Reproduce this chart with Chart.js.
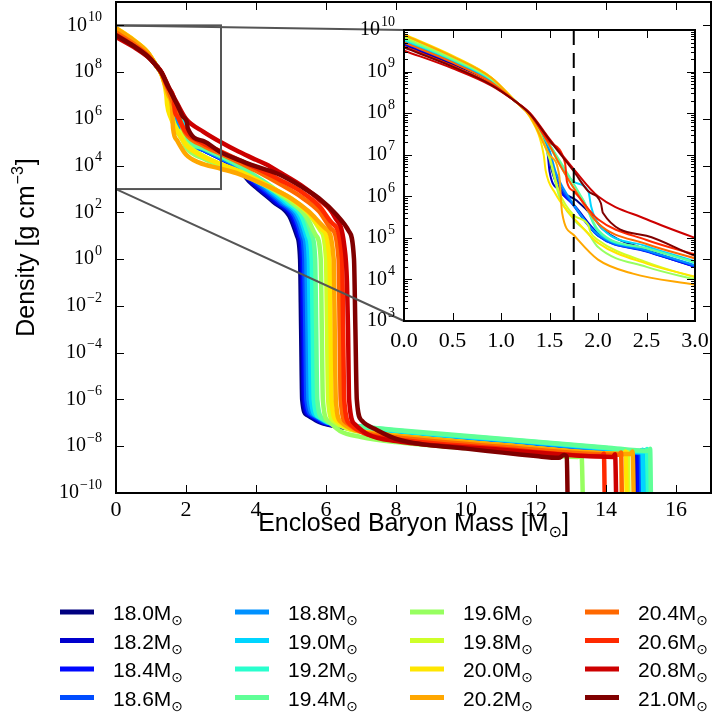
<!DOCTYPE html>
<html>
<head>
<meta charset="utf-8">
<script src="https://cdn.jsdelivr.net/npm/chart.js@4.4.1/dist/chart.umd.min.js"></script>
<style>
  html, body { margin: 0; padding: 0; background: #fff; }
  #wrap { position: relative; width: 713px; height: 722px; }
  #main { position: absolute; left: 0; top: 0; }
  #inset { position: absolute; left: 355px; top: 0; }
</style>
</head>
<body>
<div id="wrap">
  <canvas id="main" width="713" height="722"></canvas>
  <canvas id="inset" width="358" height="360"></canvas>
</div>
<script>
// ---- data: [enclosed baryon mass (Msun), density (g/cm^3)] ----
const s18_0 = [[0, 4.2e9], [0.5, 1.5e9], [0.9, 5.6e8], [1.15, 1.9e8], [1.3, 8.9e7], [1.4, 4.0e7], [1.5, 1.1e7], [1.52, 4.5e6], [1.78, 7.9e5], [1.95, 3.2e5], [2.05, 1.6e5], [2.5, 5.2e4], [3.0, 2.1e4], [3.5, 7.1e3], [3.8, 2.2e3], [4.1, 890], [4.5, 280], [4.95, 71], [5.17, 10], [5.26, 1], [5.29, 1e-3], [5.32, 1e-6], [5.45, 2.2e-7], [5.8, 1.1e-7], [6.5, 6.3e-8], [8, 3.5e-8], [11, 1.4e-8], [14, 6.0e-9], [14.78, 4.8e-9], [14.81, 6.0e-9], [14.84, 1e-11]];
const s18_2 = [[0, 4.5e9], [0.5, 1.6e9], [0.9, 5.8e8], [1.15, 1.9e8], [1.3, 8.9e7], [1.4, 3.5e7], [1.48, 1.1e7], [1.5, 4.0e6], [1.6, 1.4e6], [1.75, 6.3e5], [2.0, 1.3e5], [2.5, 4.8e4], [3.0, 2.0e4], [3.5, 7.4e3], [3.84, 2.2e3], [4.15, 890], [4.55, 280], [5.0, 71], [5.21, 10], [5.3, 1], [5.33, 1e-3], [5.36, 1e-6], [5.5, 2.2e-7], [5.85, 1.1e-7], [6.5, 6.6e-8], [8, 3.7e-8], [11, 1.5e-8], [14, 6.3e-9], [14.83, 5.0e-9], [14.86, 6.3e-9], [14.89, 1e-11]];
const s18_4 = [[0, 4.8e9], [0.5, 1.66e9], [0.9, 5.9e8], [1.15, 1.9e8], [1.3, 8.9e7], [1.4, 3.7e7], [1.5, 1.0e7], [1.55, 2.8e6], [1.75, 6.0e5], [2.0, 1.12e5], [2.5, 4.7e4], [3.0, 2.0e4], [3.5, 7.9e3], [3.9, 2.2e3], [4.22, 890], [4.62, 280], [5.05, 71], [5.26, 10], [5.34, 1], [5.37, 1e-3], [5.4, 1e-6], [5.55, 2.2e-7], [5.9, 1.1e-7], [6.5, 7.1e-8], [8, 3.8e-8], [11, 1.6e-8], [14, 6.6e-9], [14.88, 5.0e-9], [14.92, 6.3e-9], [14.95, 1e-11]];
const s18_6 = [[0, 5.0e9], [0.5, 1.74e9], [0.9, 6.0e8], [1.15, 1.9e8], [1.3, 8.9e7], [1.4, 3.8e7], [1.5, 1.12e7], [1.56, 3.2e6], [1.75, 5.9e5], [2.0, 1.12e5], [2.5, 4.8e4], [3.0, 2.1e4], [3.5, 8.3e3], [3.95, 2.2e3], [4.28, 890], [4.68, 280], [5.1, 71], [5.3, 10], [5.38, 1], [5.41, 1e-3], [5.44, 1e-6], [5.6, 2.2e-7], [5.95, 1.1e-7], [6.5, 7.6e-8], [8, 4.0e-8], [11, 1.66e-8], [14, 6.9e-9], [14.95, 5.2e-9], [14.99, 6.6e-9], [15.02, 1e-11]];
const s18_8 = [[0, 5.2e9], [0.5, 1.78e9], [0.9, 6.0e8], [1.15, 1.9e8], [1.3, 8.9e7], [1.4, 4.0e7], [1.5, 1.26e7], [1.57, 3.5e6], [1.75, 6.3e5], [2.0, 1.2e5], [2.5, 5.0e4], [3.0, 2.2e4], [3.5, 8.9e3], [4.0, 2.4e3], [4.35, 890], [4.75, 280], [5.16, 71], [5.36, 10], [5.44, 1], [5.47, 1e-3], [5.5, 1e-6], [5.66, 2.2e-7], [6.0, 1.1e-7], [6.5, 7.9e-8], [8, 4.2e-8], [11, 1.8e-8], [14, 7.4e-9], [15.05, 5.4e-9], [15.09, 6.8e-9], [15.12, 1e-11]];
const s19_0 = [[0, 5.6e9], [0.5, 1.86e9], [0.9, 6.3e8], [1.15, 1.9e8], [1.3, 9.3e7], [1.5, 1.78e7], [1.75, 2.24e6], [1.9, 1.32e6], [1.93, 5.6e5], [2.0, 2.24e5], [2.5, 6.3e4], [3.0, 2.7e4], [3.5, 1.0e4], [4.05, 2.5e3], [4.42, 890], [4.82, 280], [5.23, 71], [5.43, 10], [5.51, 1], [5.54, 1e-3], [5.57, 1e-6], [5.73, 2.0e-7], [6.05, 1.05e-7], [6.6, 7.9e-8], [8, 4.5e-8], [11, 1.9e-8], [14, 7.9e-9], [15.0, 5.6e-9], [15.04, 7.1e-9], [15.07, 1e-11]];
const s19_2 = [[0, 6.0e9], [0.5, 1.95e9], [0.9, 6.5e8], [1.15, 1.9e8], [1.3, 9.1e7], [1.5, 1.58e7], [1.75, 1.58e6], [1.85, 7.9e5], [2.0, 1.41e5], [2.5, 5.6e4], [3.0, 2.5e4], [3.5, 1.0e4], [4.1, 2.5e3], [4.5, 890], [4.9, 280], [5.3, 71], [5.5, 10], [5.59, 1], [5.62, 1e-3], [5.65, 1e-6], [5.8, 1.78e-7], [6.1, 1.0e-7], [6.7, 7.9e-8], [8, 4.7e-8], [11, 2.0e-8], [14, 8.5e-9], [15.13, 6.0e-9], [15.17, 7.6e-9], [15.2, 1e-11]];
const s19_4 = [[0, 6.3e9], [0.5, 2.0e9], [0.9, 6.6e8], [1.15, 1.9e8], [1.3, 9.3e7], [1.5, 1.78e7], [1.75, 2.0e6], [1.85, 7.9e5], [2.0, 1.58e5], [2.5, 5.6e4], [3.0, 2.6e4], [3.5, 1.05e4], [4.15, 2.5e3], [4.58, 890], [5.0, 280], [5.4, 71], [5.6, 10], [5.69, 1], [5.72, 1e-3], [5.75, 1e-6], [5.9, 1.58e-7], [6.2, 8.9e-8], [6.8, 7.1e-8], [8, 5.0e-8], [11, 2.1e-8], [14, 8.9e-9], [15.22, 6.3e-9], [15.26, 7.9e-9], [15.29, 1e-11]];
const s19_6 = [[0, 6.6e9], [0.5, 2.1e9], [0.9, 6.8e8], [1.15, 1.9e8], [1.3, 8.5e7], [1.5, 7.9e6], [1.6, 1.0e6], [1.75, 2.8e5], [1.9, 1.26e5], [2.0, 6.0e4], [2.5, 2.0e4], [3.0, 1.0e4], [3.5, 5.2e3], [4.0, 2.2e3], [4.5, 890], [5.0, 280], [5.45, 63], [5.72, 10], [5.85, 1], [5.88, 1e-3], [5.91, 1e-6], [6.05, 1.26e-7], [6.4, 4.5e-8], [7.0, 2.5e-8], [8, 1.5e-8], [11, 6.3e-9], [13.2, 3.5e-9], [13.3, 4.5e-9], [13.35, 1e-11]];
const s19_8 = [[0, 7.2e9], [0.5, 2.3e9], [0.9, 7.1e8], [1.15, 1.9e8], [1.3, 8.5e7], [1.5, 8.9e6], [1.6, 1.26e6], [1.75, 3.5e5], [1.9, 2.0e5], [1.92, 1.41e5], [2.0, 8.9e4], [2.5, 2.6e4], [3.0, 1.12e4], [3.5, 5.6e3], [4.0, 2.5e3], [4.5, 1.0e3], [5.0, 355], [5.5, 89], [5.85, 16], [6.0, 1], [6.03, 1e-3], [6.06, 1e-6], [6.2, 1.26e-7], [6.6, 5.6e-8], [7.2, 3.8e-8], [8, 2.8e-8], [11, 1.12e-8], [14.55, 4.5e-9], [14.62, 5.6e-9], [14.65, 1e-11]];
const s20_0 = [[0, 7.9e9], [0.5, 2.4e9], [0.9, 7.2e8], [1.15, 1.9e8], [1.3, 7.9e7], [1.44, 1.0e7], [1.46, 4.2e6], [1.56, 1.17e6], [1.68, 4.6e5], [1.82, 2.0e5], [2.0, 7.6e4], [2.5, 2.4e4], [3.0, 1.17e4], [3.5, 6.0e3], [4.0, 2.6e3], [4.5, 1.05e3], [5.0, 400], [5.5, 100], [5.9, 18], [6.1, 1], [6.13, 1e-3], [6.16, 1e-6], [6.3, 1.26e-7], [6.7, 5.6e-8], [7.3, 3.8e-8], [8, 2.8e-8], [11, 1.12e-8], [14.5, 4.7e-9], [14.56, 5.9e-9], [14.6, 1e-11]];
const s20_2 = [[0, 7.6e9], [0.5, 2.3e9], [0.9, 7.1e8], [1.15, 1.9e8], [1.3, 8.3e7], [1.5, 1.0e7], [1.6, 3.2e6], [1.63, 4.0e5], [1.75, 1.17e5], [2.0, 3.0e4], [2.36, 1.38e4], [3.0, 7.4e3], [3.5, 4.5e3], [4.0, 2.2e3], [4.5, 1.0e3], [5.0, 400], [5.5, 112], [6.0, 20], [6.22, 1], [6.25, 1e-3], [6.28, 1e-6], [6.42, 1.12e-7], [6.8, 5.0e-8], [7.4, 3.5e-8], [8, 2.8e-8], [11, 1.12e-8], [14.7, 4.7e-9], [14.76, 5.9e-9], [14.8, 1e-11]];
const s20_4 = [[0, 5.0e9], [0.5, 1.66e9], [0.9, 5.5e8], [1.15, 1.9e8], [1.3, 9.3e7], [1.5, 1.66e7], [1.62, 5.0e6], [1.75, 1.58e6], [2.0, 2.24e5], [2.5, 7.1e4], [3.0, 3.2e4], [3.5, 1.41e4], [4.0, 6.0e3], [4.7, 1.58e3], [5.3, 450], [5.8, 112], [6.15, 20], [6.36, 1], [6.39, 1e-3], [6.42, 1e-6], [6.58, 1.0e-7], [7.0, 4.2e-8], [8, 2.4e-8], [11, 9.5e-9], [14.38, 4.3e-9], [14.43, 5.4e-9], [14.46, 1e-11]];
const s20_6 = [[0, 4.0e9], [0.5, 1.38e9], [0.9, 5.0e8], [1.15, 1.9e8], [1.3, 9.5e7], [1.5, 2.0e7], [1.66, 6.3e6], [1.68, 2.24e6], [1.75, 1.32e6], [2.0, 2.8e5], [2.5, 8.9e4], [3.0, 4.0e4], [3.5, 1.78e4], [4.0, 7.9e3], [4.7, 2.4e3], [5.3, 760], [5.8, 190], [6.2, 32], [6.46, 1], [6.49, 1e-3], [6.52, 1e-6], [6.68, 8.9e-8], [7.1, 3.5e-8], [8, 2.0e-8], [11, 7.9e-9], [13.88, 3.8e-9], [13.94, 4.8e-9], [13.97, 1e-11]];
const s20_8 = [[0, 3.2e9], [0.5, 1.2e9], [0.9, 4.6e8], [1.15, 1.9e8], [1.3, 1.0e8], [1.5, 2.4e7], [1.75, 4.5e6], [2.0, 1.0e6], [2.5, 2.8e5], [3.0, 1.0e5], [3.5, 4.0e4], [4.0, 1.78e4], [4.3, 1.12e4], [4.7, 5.0e3], [5.3, 1.41e3], [5.8, 355], [6.25, 63], [6.52, 4], [6.6, 0.1], [6.63, 1e-3], [6.66, 1e-6], [6.82, 8.9e-8], [7.2, 3.2e-8], [8, 1.66e-8], [11, 7.1e-9], [14.2, 3.5e-9], [14.26, 4.5e-9], [14.3, 1e-11]];
const s21_0 = [[0, 3.8e9], [0.5, 1.32e9], [0.9, 4.8e8], [1.15, 1.9e8], [1.3, 9.5e7], [1.5, 2.24e7], [1.75, 4.0e6], [1.9, 1.32e6], [2.03, 6.8e5], [2.05, 4.0e5], [2.5, 1.12e5], [3.0, 3.7e4], [3.5, 1.78e4], [4.0, 9.3e3], [4.7, 4.0e3], [5.3, 1.26e3], [5.8, 400], [6.3, 79], [6.65, 16], [6.8, 1], [6.84, 1e-3], [6.88, 1e-6], [7.02, 1.26e-7], [7.45, 5.0e-8], [8.1, 1.86e-8], [10, 7.9e-9], [12, 3.8e-9], [12.65, 3.2e-9], [12.8, 4.2e-9], [12.88, 3.5e-9], [12.91, 1e-11]];

const seriesData = [s18_0, s18_2, s18_4, s18_6, s18_8, s19_0, s19_2, s19_4, s19_6, s19_8, s20_0, s20_2, s20_4, s20_6, s20_8, s21_0];
const seriesLabels = ['18.0', '18.2', '18.4', '18.6', '18.8', '19.0', '19.2', '19.4', '19.6', '19.8', '20.0', '20.2', '20.4', '20.6', '20.8', '21.0'];
const seriesColors = ['#000080', '#0000cd', '#0008ff', '#004cff', '#0091ff', '#00d5ff', '#29ffce', '#60ff97', '#97ff60', '#ceff29', '#ffe600', '#ffa700', '#ff6800', '#ff2900', '#cd0000', '#800000'];

const mainXTicks = [0, 2, 4, 6, 8, 10, 12, 14, 16];
const mainYTicks = [1e-10, 1e-8, 1e-6, 1e-4, 1e-2, 1, 1e2, 1e4, 1e6, 1e8, 1e10];
const insetXTicks = [0, 0.5, 1, 1.5, 2, 2.5, 3];
const insetYTicks = [1e3, 1e4, 1e5, 1e6, 1e7, 1e8, 1e9, 1e10];
const insetXRange = [0, 3];
const insetYRange = [1e3, 1e10];
const cutMass = 1.75;   // dashed line in the zoom panel

const SERIF = "'Liberation Serif', 'DejaVu Serif', serif";
const SANS = "'Liberation Sans', 'DejaVu Sans', sans-serif";
const insetOffset = { left: 355, top: 0 };

function makeDatasets(width) {
  return seriesData.map((pts, i) => ({
    data: pts.map(([m, rho]) => ({ x: m, y: rho })),
    borderColor: seriesColors[i],
    borderWidth: width,
    borderJoinStyle: 'round',
    pointRadius: 0,
    fill: false,
    cubicInterpolationMode: 'monotone',
    order: seriesData.length - 1 - i   // later masses drawn on top
  }));
}

// "10" with a raised exponent
function powLabel(ctx, v, xRight, yMid) {
  const e = Math.round(Math.log10(v));
  const sup = (e < 0 ? '\u2212' : '') + Math.abs(e);
  ctx.font = '20px ' + SERIF;
  const wb = ctx.measureText('10').width;
  ctx.font = '14px ' + SERIF;
  const ws = ctx.measureText(sup).width;
  const x0 = xRight - wb - ws - 1;
  ctx.textAlign = 'left';
  ctx.textBaseline = 'middle';
  ctx.font = '20px ' + SERIF;
  ctx.fillText('10', x0, yMid);
  ctx.font = '14px ' + SERIF;
  ctx.fillText(sup, x0 + wb + 1, yMid - 8);
}

function hiddenAxis(extra) {
  return Object.assign({ grid: { display: false }, border: { display: false }, ticks: { display: false } }, extra);
}

// text with a smaller piece raised (dy < 0) or lowered (dy > 0); centred on cx
function mixedText(ctx, parts, cx, cy) {
  const widths = parts.map(p => { ctx.font = p.size + 'px ' + SANS; return ctx.measureText(p.t).width + (p.gap || 0); });
  let x = cx - widths.reduce((s, w) => s + w, 0) / 2;
  parts.forEach((p, k) => {
    ctx.font = p.size + 'px ' + SANS;
    ctx.fillText(p.t, x + (p.gap || 0) / 2, cy + (p.dy || 0));
    x += widths[k];
  });
}

// ---------- inset ----------
const insetDecor = {
  id: 'insetDecor',
  beforeDraw(chart) {
    const { ctx, chartArea: a } = chart;
    ctx.save();
    ctx.fillStyle = '#fff';
    ctx.fillRect(a.left, a.top, a.right - a.left, a.bottom - a.top);
    ctx.restore();
  },
  afterDatasetsDraw(chart) {
    const { ctx, chartArea: a, scales: { x } } = chart;
    ctx.save();
    ctx.strokeStyle = '#000';
    ctx.lineWidth = 2;
    ctx.setLineDash([15, 8]);
    const px = x.getPixelForValue(cutMass);
    ctx.beginPath();
    ctx.moveTo(px, a.top);
    ctx.lineTo(px, a.bottom);
    ctx.stroke();
    ctx.restore();
  },
  afterDraw(chart) {
    const { ctx, chartArea: a, scales: { x, y } } = chart;
    ctx.save();
    ctx.strokeStyle = '#000';
    ctx.lineWidth = 1;
    ctx.beginPath();
    insetXTicks.forEach(v => {
      const px = Math.round(x.getPixelForValue(v)) + 0.5;
      ctx.moveTo(px, a.bottom); ctx.lineTo(px, a.bottom - 8);
      ctx.moveTo(px, a.top); ctx.lineTo(px, a.top + 8);
    });
    insetYTicks.forEach((v, k) => {
      const py = Math.round(y.getPixelForValue(v)) + 0.5;
      ctx.moveTo(a.left, py); ctx.lineTo(a.left + 8, py);
      ctx.moveTo(a.right, py); ctx.lineTo(a.right - 8, py);
      if (k < insetYTicks.length - 1) {
        for (let f = 2; f <= 9; f++) {
          const pm = Math.round(y.getPixelForValue(v * f)) + 0.5;
          ctx.moveTo(a.left, pm); ctx.lineTo(a.left + 4, pm);
          ctx.moveTo(a.right, pm); ctx.lineTo(a.right - 4, pm);
        }
      }
    });
    ctx.stroke();
    ctx.lineWidth = 2;
    ctx.strokeRect(a.left, a.top, a.right - a.left, a.bottom - a.top);

    ctx.fillStyle = '#000';
    ctx.font = '22px ' + SERIF;
    ctx.textAlign = 'center';
    ctx.textBaseline = 'middle';
    insetXTicks.forEach(v => ctx.fillText(v.toFixed(1), x.getPixelForValue(v), a.bottom + 20));
    insetYTicks.forEach(v => powLabel(ctx, v, a.left - 9, y.getPixelForValue(v)));
    ctx.restore();
  }
};

const insetChart = new Chart(document.getElementById('inset'), {
  type: 'line',
  data: { datasets: makeDatasets(2) },
  options: {
    responsive: false,
    animation: false,
    events: [],
    layout: { padding: { top: 30, right: 18, left: 0, bottom: 0 } },
    plugins: { legend: { display: false }, tooltip: { enabled: false } },
    scales: {
      x: hiddenAxis({ type: 'linear', min: insetXRange[0], max: insetXRange[1], afterFit: s => { s.height = 39; } }),
      y: hiddenAxis({ type: 'logarithmic', min: insetYRange[0], max: insetYRange[1], afterFit: s => { s.width = 49; } })
    }
  },
  plugins: [insetDecor]
});

// ---------- main ----------
const mainDecor = {
  id: 'mainDecor',
  afterDatasetsDraw(chart) {
    const { ctx, scales: { x, y } } = chart;
    const bx0 = x.getPixelForValue(insetXRange[0]), bx1 = x.getPixelForValue(insetXRange[1]);
    const byTop = y.getPixelForValue(insetYRange[1]), byBot = y.getPixelForValue(insetYRange[0]);
    const ia = insetChart.chartArea;
    ctx.save();
    ctx.strokeStyle = '#555';
    ctx.lineWidth = 2;
    ctx.strokeRect(bx0, byTop, bx1 - bx0, byBot - byTop);
    ctx.beginPath();
    ctx.moveTo(bx0, byTop); ctx.lineTo(insetOffset.left + ia.left, insetOffset.top + ia.top);
    ctx.moveTo(bx0, byBot); ctx.lineTo(insetOffset.left + ia.left, insetOffset.top + ia.bottom);
    ctx.stroke();
    ctx.restore();
  },
  afterDraw(chart) {
    const { ctx, chartArea: a, scales: { x, y } } = chart;
    ctx.save();
    ctx.strokeStyle = '#000';
    ctx.lineWidth = 1;
    ctx.beginPath();
    mainXTicks.forEach(v => {
      const px = Math.round(x.getPixelForValue(v)) + 0.5;
      ctx.moveTo(px, a.bottom); ctx.lineTo(px, a.bottom - 8);
      ctx.moveTo(px, a.top); ctx.lineTo(px, a.top + 8);
    });
    mainYTicks.forEach(v => {
      const py = Math.round(y.getPixelForValue(v)) + 0.5;
      ctx.moveTo(a.left, py); ctx.lineTo(a.left + 8, py);
      ctx.moveTo(a.right, py); ctx.lineTo(a.right - 8, py);
    });
    ctx.stroke();
    ctx.lineWidth = 2;
    ctx.strokeRect(a.left, a.top, a.right - a.left, a.bottom - a.top);

    ctx.fillStyle = '#000';
    ctx.font = '22px ' + SERIF;
    ctx.textAlign = 'center';
    ctx.textBaseline = 'middle';
    mainXTicks.forEach(v => ctx.fillText(String(v), x.getPixelForValue(v), a.bottom + 17));
    mainYTicks.forEach(v => powLabel(ctx, v, a.left - 14, y.getPixelForValue(v)));

    // axis titles
    ctx.textAlign = 'left';
    ctx.textBaseline = 'alphabetic';
    mixedText(ctx, [
      { t: 'Enclosed Baryon Mass [M', size: 25 },
      { t: '\u2299', size: 16, dy: 6 },
      { t: ']', size: 25 }
    ], (a.left + a.right) / 2, a.bottom + 38);

    ctx.translate(34, (a.top + a.bottom) / 2);
    ctx.rotate(-Math.PI / 2);
    mixedText(ctx, [
      { t: 'Density [g cm', size: 25 },
      { t: '\u22123', size: 16, dy: -11, gap: 2 },
      { t: ']', size: 25 }
    ], 0, 0);
    ctx.setTransform(1, 0, 0, 1, 0, 0);

    // legend, 4 columns
    const colX = [60, 235, 410, 585], rowY = [612, 640.5, 669, 697.5];
    seriesLabels.forEach((lab, i) => {
      const cx = colX[Math.floor(i / 4)], cy = rowY[i % 4];
      ctx.strokeStyle = seriesColors[i];
      ctx.lineWidth = 5;
      ctx.beginPath();
      ctx.moveTo(cx, cy); ctx.lineTo(cx + 34, cy);
      ctx.stroke();
      ctx.fillStyle = '#000';
      ctx.textAlign = 'left';
      ctx.textBaseline = 'alphabetic';
      ctx.font = '21px ' + SANS;
      const txt = lab + 'M';
      ctx.fillText(txt, cx + 53, cy + 8);
      const w = ctx.measureText(txt).width;
      ctx.font = '14px ' + SANS;
      ctx.fillText('\u2299', cx + 53 + w, cy + 13);
    });
    ctx.restore();
  }
};

new Chart(document.getElementById('main'), {
  type: 'line',
  data: { datasets: makeDatasets(4.5) },
  options: {
    responsive: false,
    animation: false,
    events: [],
    layout: { padding: { top: 2, right: 2, left: 0, bottom: 0 } },
    plugins: { legend: { display: false }, tooltip: { enabled: false } },
    scales: {
      x: hiddenAxis({ type: 'linear', min: 0, max: 17, afterFit: s => { s.height = 229; } }),
      y: hiddenAxis({ type: 'logarithmic', min: 1e-10, max: 1e11, afterFit: s => { s.width = 116; } })
    }
  },
  plugins: [mainDecor]
});
</script>
</body>
</html>
